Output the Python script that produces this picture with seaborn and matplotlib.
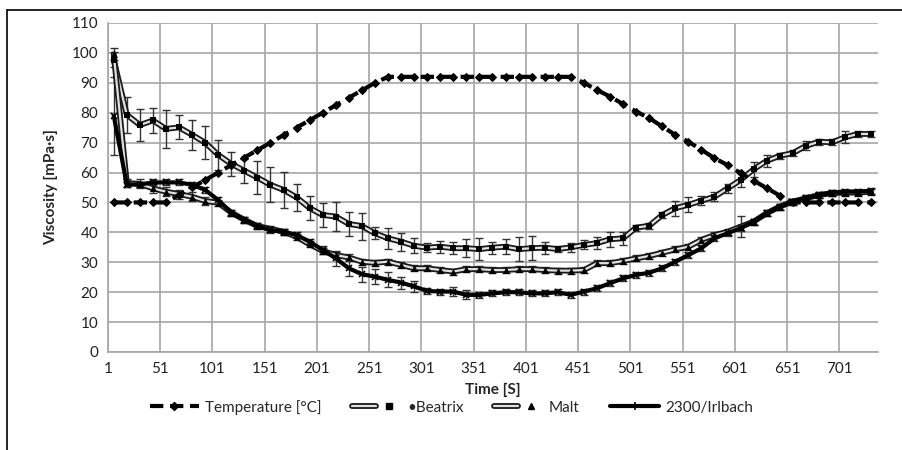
import numpy as np
import pandas as pd
import seaborn as sns
import matplotlib.pyplot as plt
import matplotlib.patheffects as pe
from matplotlib.lines import Line2D
from matplotlib.legend_handler import HandlerTuple

# time points [s]
time = [6.5, 19, 31.5, 44, 56.5, 69, 81.5, 94, 106.5, 119, 131.5, 144, 156.5, 169, 181.5,
        194, 206.5, 219, 231.5, 244, 256.5, 269, 281.5, 294, 306.5, 319, 331.5, 344, 356.5,
        369, 381.5, 394, 406.5, 419, 431.5, 444, 456.5, 469, 481.5, 494, 506.5, 519, 531.5,
        544, 556.5, 569, 581.5, 594, 606.5, 619, 631.5, 644, 656.5, 669, 681.5, 694, 706.5,
        719, 731.5]

temperature = [50, 50, 50, 50, 50, 52.5, 55, 57.5, 60, 62.5, 65, 67.5, 70, 72.5, 75,
               77.5, 80, 82.5, 85, 87.5, 90, 92, 92, 92, 92, 92, 92, 92, 92,
               92, 92, 92, 92, 92, 92, 92, 90, 87.6, 85.4, 82.9, 80.4, 78.2, 75.4,
               72.6, 70.3, 67.6, 64.8, 62.5, 59.8, 57.3, 54.8, 52.3, 50, 50, 50, 50, 50,
               50, 50]

beatrix = [97.7, 79.3, 75.9, 77.4, 74.6, 75.1, 72.6, 70, 65.9, 62.9, 60.6, 58.3, 55.9, 54.2, 51.7,
           48.1, 45.8, 45.3, 42.8, 42.1, 39.7, 38, 36.9, 35.5, 34.9, 35.2, 34.7, 34.7, 34.4,
           34.9, 35.2, 34.4, 34.7, 34.9, 34.4, 35, 35.8, 36.4, 37.7, 38, 41.6, 42.2, 45.8,
           48.1, 49.2, 50.6, 51.9, 54.7, 57.5, 61.1, 63.9, 65.6, 66.5, 68.9, 70.3, 70.1, 71.8,
           72.9, 72.9]
beatrix_err = [2.5, 6, 5.5, 4.2, 6.4, 4, 5, 5.5, 5, 4, 4, 5.5, 5.8, 6, 4.5,
               4, 4, 5, 4, 4.5, 2, 3.5, 3, 2.5, 1.5, 2, 2, 3, 3.6,
               2, 2.5, 4, 4, 2, 1, 1.5, 1.5, 2, 2.5, 2.2, 1, 1, 1,
               2.5, 2.5, 1.5, 1.5, 1.5, 2.5, 2.5, 2, 1, 1, 1.5, 1, 1, 2,
               1, 1]

malt = [99.5, 56.5, 56.2, 54.7, 53.6, 52.8, 51.9, 50.5, 49.9, 46.6, 44.2, 42.1, 41.2, 40.2, 38.5,
        36, 33.8, 32.4, 31.6, 30.2, 29.8, 30.2, 29.1, 28, 28, 27.4, 26.9, 27.7, 27.7,
        27.4, 27.4, 27.7, 27.7, 27.4, 27.2, 27.2, 27.4, 29.7, 29.7, 30.4, 31.3, 32.1, 33.2,
        34.3, 35.2, 37.5, 39.1, 40.2, 41.9, 43.6, 46.4, 48.6, 50.3, 51.4, 52.5, 53.1, 53.3,
        53.3, 53.6]
malt_err = [2, 1.5, 1.5, 1.5, 1.5, 1.5, 1.5, 1.2, 1, 1, 1, 1, 1, 1, 1,
            1, 1, 1, 1, 1, 1, 1, 1, 1, 1, 1, 1, 1, 1,
            1, 1, 1, 1, 1, 1, 1, 1, 1, 1, 1, 1, 1, 1,
            1, 1, 1, 1, 1, 3.5, 1, 1, 1, 1, 1, 1, 1, 1,
            1, 1]

irlbach = [79, 56, 56, 56.7, 56.7, 56.7, 55.9, 54.2, 50.8, 46.6, 44.2, 42.1, 40.8, 40.2, 39.1,
           36.9, 34.1, 31.3, 28, 26, 25.2, 24.1, 23.2, 21.9, 20.4, 20.2, 20.2, 19.1, 19.1,
           19.6, 20, 20, 19.6, 19.6, 20, 19.1, 20.2, 21.3, 23, 24.6, 25.8, 26.5, 28,
           30.2, 32.4, 34.7, 38, 39.7, 41.4, 43.6, 46.4, 48.6, 50.3, 51.4, 52.5, 53.3, 53.6,
           53.6, 53.9]
irlbach_err = [13, 1, 1, 1, 1, 1, 1, 1, 1, 1, 1, 1, 1, 1, 1,
               1, 1.5, 2.5, 2.5, 2.5, 2.5, 2.5, 2, 2, 1, 1, 1.5, 1.5, 1,
               1, 1, 1, 1, 1, 1, 1, 1, 1, 1, 1, 1, 1, 1,
               1, 1, 1, 1, 1, 1, 1, 1, 1, 1, 1, 1, 1, 1,
               1, 1]

x_ticks = [1, 51, 101, 151, 201, 251, 301, 351, 401, 451, 501, 551, 601, 651, 701]

sns.set_style("white")
plt.rcParams['font.family'] = ['Lato', 'DejaVu Sans']

df = pd.DataFrame({"time": time, "temp": temperature, "beatrix": beatrix,
                   "malt": malt, "irlbach": irlbach})

fig = plt.figure(figsize=(9.03, 4.5), dpi=100)
ax = fig.add_axes([0.1196, 0.2178, 0.8527, 0.7311])

grey = "#a6a6a6"
double = [pe.Stroke(linewidth=4.2, foreground="#1a1a1a"), pe.Normal()]

# error bars first, under the lines
for y, err in [(beatrix, beatrix_err), (malt, malt_err), (irlbach, irlbach_err)]:
    ax.errorbar(time, y, yerr=err, fmt="none", ecolor="#333333",
                elinewidth=1, capsize=3, capthick=1, zorder=2)

# double lines (outlined), markers drawn on top separately
sns.lineplot(data=df, x="time", y="beatrix", ax=ax, color="#e0e0e0", linewidth=1.6,
             path_effects=double, zorder=4)
sns.lineplot(data=df, x="time", y="malt", ax=ax, color="#e0e0e0", linewidth=1.6,
             path_effects=double, zorder=4)
sns.scatterplot(data=df, x="time", y="beatrix", ax=ax, color="black", marker="s",
                s=16, linewidth=0, zorder=5)
sns.scatterplot(data=df, x="time", y="malt", ax=ax, color="black", marker="^",
                s=26, linewidth=0, zorder=5)

sns.lineplot(data=df, x="time", y="irlbach", ax=ax, color="black", linewidth=3,
             marker="x", markersize=4.5, markeredgewidth=1.2, markeredgecolor="black",
             zorder=6)

# temperature on top
sns.lineplot(data=df, x="time", y="temp", ax=ax, color="black", linewidth=3,
             linestyle=(0, (3.2, 1.6)), marker="D", markersize=4.5,
             markeredgecolor="black", zorder=7)

ax.set_xlim(1, 738)
ax.set_ylim(0, 110)
ax.set_xticks(x_ticks)
ax.set_yticks(range(0, 111, 10))
ax.grid(True, color=grey, linewidth=1.2)
ax.set_axisbelow(True)
for side in ["top", "right"]:
    ax.spines[side].set_visible(False)
for side in ["left", "bottom"]:
    ax.spines[side].set_color(grey)
    ax.spines[side].set_linewidth(1.2)
ax.tick_params(axis="both", direction="out", length=4, width=1.2, color=grey,
               labelsize=11, labelcolor="#222222", pad=3)

ax.set_xlabel("Time [S]", fontsize=11, fontweight="bold", labelpad=5)
ax.set_ylabel("Viscosity [mPa·s]", fontsize=11, fontweight="bold", labelpad=10)

# legend handles
h_temp = Line2D([], [], color="black", linewidth=3, linestyle=(0, (3.2, 1.6)),
                marker="D", markersize=4.5)
h_bea = (Line2D([], [], color="#e0e0e0", linewidth=1.6, path_effects=double),
         Line2D([], [], color="black", marker="s", markersize=4, linestyle="none"))
h_malt = (Line2D([], [], color="#e0e0e0", linewidth=1.6, path_effects=double),
          Line2D([], [], color="black", marker="^", markersize=5, linestyle="none"))
h_irl = Line2D([], [], color="black", linewidth=3, marker="+", markersize=6,
               markeredgewidth=1.2)
fig.legend([h_temp, h_bea, h_malt, h_irl],
           ["Temperature [°C]", "•Beatrix", "Malt", "2300/Irlbach"],
           handler_map={tuple: HandlerTuple(ndivide=None, pad=0)},
           loc="center", bbox_to_anchor=(0.5, 0.095), ncol=4,
           frameon=False, fontsize=11, handlelength=3.2, columnspacing=2.0,
           handletextpad=0.4)

# outer chart border (top and left)
fig.add_artist(Line2D([7 / 903, 1], [1 - 10 / 450, 1 - 10 / 450],
                      transform=fig.transFigure, color="black", linewidth=1.2))
fig.add_artist(Line2D([7 / 903, 7 / 903], [0, 1 - 10 / 450],
                      transform=fig.transFigure, color="black", linewidth=1.2))

fig.savefig("out.png", dpi=100)
